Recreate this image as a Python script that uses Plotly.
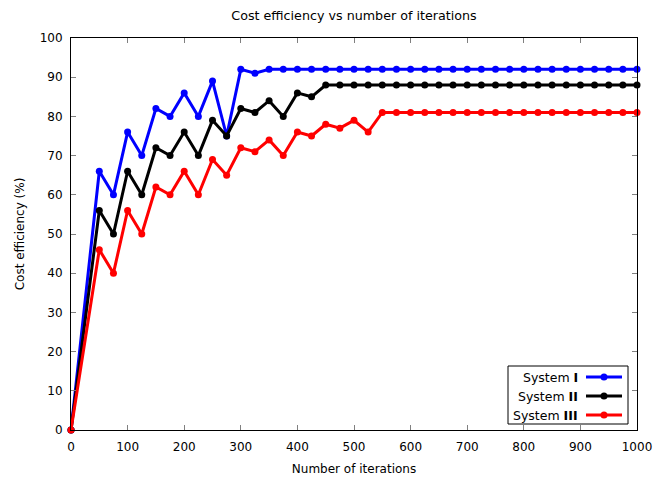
import plotly.graph_objects as go

iterations = [0] + list(range(50, 1001, 25))
n_tail = len(iterations)

sys1_head = [0, 66, 60, 76, 70, 82, 80, 86, 80, 89, 75, 92, 91, 92]
sys2_head = [0, 56, 50, 66, 60, 72, 70, 76, 70, 79, 75, 82, 81, 84, 80, 86, 85, 88]
sys3_head = [0, 46, 40, 56, 50, 62, 60, 66, 60, 69, 65, 72, 71, 74, 70, 76, 75, 78, 77, 79, 76, 81]

system1 = sys1_head + [92] * (n_tail - len(sys1_head))
system2 = sys2_head + [88] * (n_tail - len(sys2_head))
system3 = sys3_head + [81] * (n_tail - len(sys3_head))

names = ["System <b>I</b>", "System <b>II</b>", "System <b>III</b>"]
colors = ["#0000ff", "#000000", "#ff0000"]
series = [system1, system2, system3]

x_ticks = list(range(0, 1001, 100))
y_ticks = list(range(0, 101, 10))

fig = go.Figure()
for ys, c, nm in zip(series, colors, names):
    fig.add_trace(go.Scatter(x=iterations, y=ys, mode="lines+markers", name=nm,
                             line=dict(color=c, width=3),
                             marker=dict(color=c, size=7),
                             cliponaxis=False, showlegend=False))

font = "DejaVu Sans, Liberation Sans, sans-serif"
axis_common = dict(showgrid=False, zeroline=False, showline=True, linecolor="black",
                   linewidth=1, mirror="ticks", ticks="inside", ticklen=5, automargin=False,
                   tickcolor="#808080", tickfont=dict(size=12, color="black", family=font))

fig.update_xaxes(range=[0, 1000], tickvals=x_ticks, ticklabelstandoff=6, **axis_common,
                 title=dict(text="Number of iterations", font=dict(size=12, family=font), standoff=11))
fig.update_yaxes(range=[0, 100], tickvals=y_ticks, ticklabelstandoff=5, **axis_common,
                 title=dict(text="Cost efficiency (%)", font=dict(size=12, family=font), standoff=12))

# legend box (bottom-right, gnuplot style)
L, R, T, B = 71, 637, 38, 430
W, H = 664, 478
def px(x):
    return (x - L) / (R - L)
def py(y):
    return (B - y) / (B - T)

shapes = [dict(type="rect", xref="paper", yref="paper", x0=px(508), x1=px(628),
               y0=py(424), y1=py(366), line=dict(color="black", width=1),
               fillcolor="white", layer="above")]
annotations = []
ys_leg = [377, 396, 415]
for yl, c, nm in zip(ys_leg, colors, names):
    shapes.append(dict(type="line", xref="paper", yref="paper", x0=px(586), x1=px(622),
                       y0=py(yl), y1=py(yl), line=dict(color=c, width=3), layer="above"))
    shapes.append(dict(type="circle", xref="paper", yref="paper", x0=px(600.5), x1=px(607.5),
                       y0=py(yl + 3.5), y1=py(yl - 3.5), line=dict(color=c, width=0),
                       fillcolor=c, layer="above"))
    annotations.append(dict(xref="paper", yref="paper", x=px(580), y=py(yl), text=nm,
                            showarrow=False, xanchor="right", yanchor="middle",
                            font=dict(size=12.5, family=font, color="black")))

fig.update_layout(
    width=W, height=H,
    margin=dict(l=L, r=W - R, t=T, b=H - B, autoexpand=False),
    paper_bgcolor="white", plot_bgcolor="white",
    title=dict(text="Cost efficiency vs number of iterations", x=0.5, xref="paper", xanchor="center",
               y=1 - 16 / H, yanchor="middle", font=dict(size=12.7, family=font, color="black")),
    shapes=shapes, annotations=annotations,
    font=dict(family=font, color="black"),
)

fig.write_html("out.html")
